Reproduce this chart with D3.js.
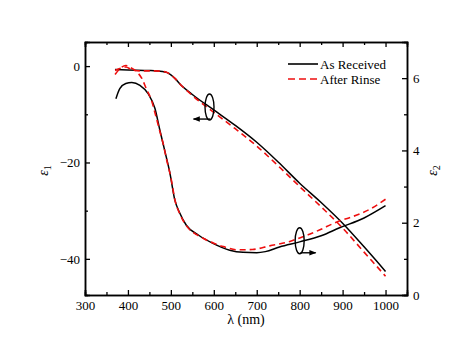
<!DOCTYPE html>
<html>
<head>
<meta charset="utf-8">
<script src="https://cdn.jsdelivr.net/npm/d3@7"></script>
<style>
  body { margin: 0; background: #fff; }
  svg text { font-family: "Liberation Serif", "Times New Roman", serif; fill: #000; }
  .axis path, .axis line { stroke: #000; stroke-width: 1.3; }
</style>
</head>
<body>
<script>
// As Received (black)
var recE1 = [
  [370, -0.7], [400, -0.8], [450, -0.9], [480, -1.1], [490, -1.3], [500, -1.8],
  [510, -2.6], [520, -3.6], [550, -5.9], [600, -9.1], [650, -12.3], [700, -15.8],
  [750, -19.9], [800, -24.3], [850, -28.3], [900, -32.6], [950, -37.5], [1000, -42.6]
];
var recE2 = [
  [372, 5.43], [381, 5.71], [395, 5.85], [409, 5.88], [428, 5.8], [447, 5.57],
  [463, 5.16], [474, 4.58], [486, 3.98], [498, 3.36], [509, 2.64], [521, 2.26],
  [536, 1.93], [564, 1.66], [598, 1.43], [637, 1.24], [668, 1.18], [700, 1.17],
  [720, 1.2], [753, 1.33], [800, 1.47], [850, 1.64], [893, 1.86], [950, 2.13], [1000, 2.47]
];
// After Rinse (red dashed)
var rinE1 = [
  [370, -0.9], [385, -0.4], [395, -0.2], [410, -0.8], [430, -1.0], [460, -1.0],
  [480, -1.1], [490, -1.3], [500, -1.8], [510, -2.6], [520, -3.6], [550, -6.1],
  [600, -9.6], [650, -13.0], [700, -16.6], [750, -20.7], [800, -25.0], [850, -29.2],
  [900, -33.6], [950, -38.6], [1000, -43.6]
];
var rinE2 = [
  [370, 6.1], [385, 6.3], [395, 6.35], [405, 6.3], [420, 6.18], [432, 6.0],
  [443, 5.7], [455, 5.38], [465, 4.95], [475, 4.5], [482, 4.19], [490, 3.75],
  [500, 3.25], [510, 2.6], [521, 2.24], [536, 1.92], [560, 1.67], [575, 1.57],
  [600, 1.43], [622, 1.34], [655, 1.25], [690, 1.26], [730, 1.36], [777, 1.48],
  [800, 1.58], [823, 1.68], [850, 1.82], [877, 1.97], [900, 2.08], [916, 2.14],
  [963, 2.37], [1000, 2.65]
];

var xTicks = [300, 400, 500, 600, 700, 800, 900, 1000];
var xMinor = [350, 450, 550, 650, 750, 850, 950];
var y1Ticks = [0, -20, -40];
var y1Minor = [-10, -30];
var y2Ticks = [0, 2, 4, 6];
var y2Minor = [1, 3, 5];

var legendItems = ["As Received", "After Rinse"];

var margin = { top: 42, right: 67, bottom: 59, left: 85 };
var width = 474 - margin.left - margin.right;
var height = 354 - margin.top - margin.bottom;
var red = "#ee0f0f";

var svg = d3.select("body").append("svg")
  .attr("width", 474)
  .attr("height", 354)
  .append("g")
  .attr("transform", "translate(" + margin.left + "," + margin.top + ")");

var x = d3.scaleLinear().domain([300, 1050]).range([0, width]);
var y1 = d3.scaleLinear().domain([-47.5, 5]).range([height, 0]);
var y2 = d3.scaleLinear().domain([0, 7]).range([height, 0]);

// axes, ticks pointing inward
function drawAxis(gen, tf) {
  var g = svg.append("g").attr("class", "axis");
  if (tf) g.attr("transform", tf);
  g.call(gen);
  g.selectAll("text").style("font-size", "13px");
  return g;
}

drawAxis(d3.axisBottom(x).tickValues(xTicks).tickSize(-5).tickPadding(6).tickFormat(d3.format("d")),
  "translate(0," + height + ")");
drawAxis(d3.axisBottom(x).tickValues(xMinor).tickSize(-3).tickFormat(""),
  "translate(0," + height + ")");
drawAxis(d3.axisTop(x).tickValues(xTicks).tickSize(-5).tickFormat(""));
drawAxis(d3.axisTop(x).tickValues(xMinor).tickSize(-3).tickFormat(""));

drawAxis(d3.axisLeft(y1).tickValues(y1Ticks).tickSize(-5).tickPadding(5).tickFormat(d3.format("d")));
drawAxis(d3.axisLeft(y1).tickValues(y1Minor).tickSize(-3).tickFormat(""));

drawAxis(d3.axisRight(y2).tickValues(y2Ticks).tickSize(-5).tickPadding(6).tickFormat(d3.format("d")),
  "translate(" + width + ",0)");
drawAxis(d3.axisRight(y2).tickValues(y2Minor).tickSize(-3).tickFormat(""),
  "translate(" + width + ",0)");

svg.selectAll(".axis path").style("stroke-width", 1.5);

// curves
var lineE1 = d3.line().x(d => x(d[0])).y(d => y1(d[1])).curve(d3.curveMonotoneX);
var lineE2 = d3.line().x(d => x(d[0])).y(d => y2(d[1])).curve(d3.curveMonotoneX);

svg.append("path").datum(recE1).attr("d", lineE1)
  .attr("fill", "none").attr("stroke", "#000").attr("stroke-width", 1.5);
svg.append("path").datum(recE2).attr("d", lineE2)
  .attr("fill", "none").attr("stroke", "#000").attr("stroke-width", 1.5);
svg.append("path").datum(rinE1).attr("d", lineE1)
  .attr("fill", "none").attr("stroke", red).attr("stroke-width", 1.6)
  .attr("stroke-dasharray", "6,4");
svg.append("path").datum(rinE2).attr("d", lineE2)
  .attr("fill", "none").attr("stroke", red).attr("stroke-width", 1.6)
  .attr("stroke-dasharray", "6,4");

// ellipse + arrow markers
svg.append("defs").append("marker")
  .attr("id", "ah").attr("viewBox", "0 0 10 10")
  .attr("refX", 9).attr("refY", 5)
  .attr("markerWidth", 6).attr("markerHeight", 5)
  .attr("orient", "auto-start-reverse")
  .append("path").attr("d", "M0,1L10,5L0,9Z").attr("fill", "#000");

var ann = [
  { lam: 590, v: -8.5, scale: y1, dir: -1 },
  { lam: 800, v: 1.5, scale: y2, dir: 1 }
];
ann.forEach(function(a) {
  var cx = x(a.lam), cy = a.scale(a.v);
  svg.append("ellipse").attr("cx", cx).attr("cy", cy)
    .attr("rx", 4.5).attr("ry", 13)
    .attr("fill", "none").attr("stroke", "#000").attr("stroke-width", 1.4);
  svg.append("line")
    .attr("x1", cx + 1).attr("y1", cy + 12)
    .attr("x2", cx + a.dir * 16).attr("y2", cy + 12)
    .attr("stroke", "#000").attr("stroke-width", 1.4)
    .attr("marker-end", "url(#ah)");
});

// legend
var leg = svg.append("g").attr("transform", "translate(203,22)");
legendItems.forEach(function(name, i) {
  leg.append("line")
    .attr("x1", 0).attr("x2", 30)
    .attr("y1", i * 15).attr("y2", i * 15)
    .attr("stroke", i == 0 ? "#000" : red)
    .attr("stroke-width", 1.6)
    .attr("stroke-dasharray", i == 0 ? null : "7,4");
  leg.append("text")
    .attr("x", 32).attr("y", i * 15).attr("dy", "0.35em")
    .style("font-size", "13px")
    .text(name);
});

// axis labels
svg.append("text")
  .attr("x", width / 2).attr("y", height + 29)
  .attr("text-anchor", "middle")
  .style("font-size", "14px")
  .text("λ (nm)");

var l1 = svg.append("text")
  .attr("transform", "translate(-37," + (height / 2 + 2) + ") rotate(-90)")
  .attr("text-anchor", "middle")
  .style("font-size", "14px");
l1.append("tspan").style("font-style", "italic").text("ε");
l1.append("tspan").attr("dy", 3).style("font-size", "10px").text("1");

var l2 = svg.append("text")
  .attr("transform", "translate(" + (width + 30) + "," + (height / 2 + 2) + ") rotate(-90)")
  .attr("text-anchor", "middle")
  .style("font-size", "14px");
l2.append("tspan").style("font-style", "italic").text("ε");
l2.append("tspan").attr("dy", 3).style("font-size", "10px").text("2");
</script>
</body>
</html>
